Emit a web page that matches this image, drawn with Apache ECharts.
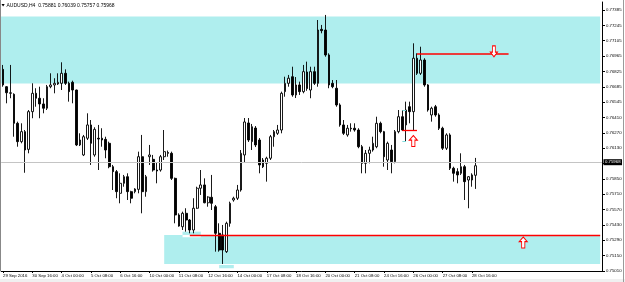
<!DOCTYPE html>
<html><head><meta charset="utf-8">
<script src="https://cdn.jsdelivr.net/npm/echarts@6/dist/echarts.min.js"></script>
<style>html,body{margin:0;padding:0;background:#fff;}#c{width:625px;height:282px;}</style>
</head><body><div id="c"></div>
<script>
// ---- data (AUDUSD H4) ----
const opens = [0.76845,0.76687,0.76627,0.76618,0.76354,0.76187,0.76278,0.76117,0.76460,0.76627,
0.76582,0.76530,0.76491,0.76687,0.76703,0.76712,0.76718,0.76809,0.76718,0.76727,
0.76657,0.76157,0.76066,0.76218,0.76339,0.76066,0.76218,0.76218,0.76208,0.76172,
0.75959,0.75914,0.75717,0.75808,0.75868,0.75732,0.75732,0.75753,0.76050,0.75732,
0.76050,0.76026,0.75929,0.75929,0.76050,0.76088,0.76081,0.75853,0.75520,0.75413,
0.75535,0.75474,0.75383,0.75581,0.75763,0.75793,0.75631,0.75681,0.75595,0.75353,
0.75338,0.75186,0.75444,0.75656,0.75672,0.75747,0.76066,0.76357,0.76187,0.76311,
0.76202,0.76020,0.75990,0.76036,0.76232,0.76263,0.76293,0.76642,0.76718,0.76778,
0.76612,0.76703,0.76642,0.76821,0.76657,0.76824,0.76718,0.77209,0.77203,0.76976,
0.76718,0.76673,0.76521,0.76339,0.76248,0.76309,0.76309,0.76293,0.76141,0.75990,
0.76081,0.76111,0.76141,0.76354,0.76278,0.76020,0.76111,0.76005,0.76278,0.76414,
0.76339,0.76505,0.76460,0.76946,0.76809,0.76930,0.76703,0.76430,0.76505,0.76430,
0.76309,0.76127,0.76248,0.75945,0.75914,0.75899,0.75959,0.75838,0.75838,0.75881];
const closes = [0.76703,0.76632,0.76632,0.76354,0.76187,0.76278,0.76111,0.76460,0.76627,0.76582,
0.76530,0.76491,0.76687,0.76703,0.76718,0.76727,0.76809,0.76718,0.76642,0.76657,
0.76157,0.76202,0.76232,0.76339,0.76172,0.76299,0.76211,0.76202,0.76111,0.75959,
0.75914,0.75732,0.75808,0.75868,0.75732,0.75672,0.75756,0.76050,0.75732,0.75868,
0.76066,0.75929,0.75920,0.76050,0.76096,0.76081,0.75853,0.75520,0.75419,0.75535,
0.75474,0.75383,0.75581,0.75763,0.75793,0.75631,0.75683,0.75626,0.75353,0.75201,
0.75201,0.75444,0.75626,0.75672,0.75747,0.76081,0.76366,0.76202,0.76323,0.76157,
0.75975,0.75959,0.76036,0.76232,0.76278,0.76293,0.76627,0.76718,0.76764,0.76612,
0.76703,0.76642,0.76824,0.76670,0.76824,0.76718,0.77203,0.77197,0.76976,0.76703,
0.76687,0.76521,0.76339,0.76263,0.76309,0.76304,0.76293,0.76141,0.75990,0.76081,
0.76111,0.76172,0.76354,0.76278,0.76050,0.76172,0.76005,0.76278,0.76414,0.76293,
0.76475,0.76460,0.76946,0.76809,0.76930,0.76703,0.76475,0.76491,0.76430,0.76309,
0.76127,0.76248,0.75945,0.75899,0.75884,0.75959,0.75823,0.75868,0.75884,0.75968];
const lows = [0.76687,0.76536,0.76582,0.76232,0.76141,0.76172,0.75904,0.76081,0.76400,0.76505,
0.76400,0.76445,0.76475,0.76673,0.76627,0.76703,0.76657,0.76703,0.76551,0.76536,
0.76147,0.76147,0.76056,0.76202,0.75975,0.76050,0.75929,0.76141,0.76036,0.75945,
0.75747,0.75672,0.75626,0.75777,0.75656,0.75626,0.75717,0.75717,0.75535,0.75686,
0.75975,0.75914,0.75808,0.75914,0.76020,0.76050,0.75838,0.75444,0.75413,0.75383,
0.75368,0.75353,0.75353,0.75575,0.75702,0.75626,0.75595,0.75565,0.75186,0.75186,
0.75074,0.75174,0.75413,0.75641,0.75656,0.75732,0.75993,0.76184,0.76111,0.76138,
0.75899,0.75947,0.75823,0.76020,0.76141,0.76248,0.76263,0.76596,0.76687,0.76596,
0.76584,0.76612,0.76627,0.76650,0.76582,0.76703,0.76687,0.77173,0.76960,0.76673,
0.76673,0.76505,0.76323,0.76248,0.76232,0.76278,0.76278,0.76127,0.75899,0.75899,
0.75990,0.76096,0.76127,0.76263,0.75959,0.75929,0.75899,0.75990,0.76263,0.76284,
0.76187,0.76354,0.76293,0.76794,0.76794,0.76687,0.76460,0.76369,0.76414,0.76293,
0.76111,0.76111,0.75929,0.75823,0.75808,0.75884,0.75656,0.75581,0.75777,0.75757];
const highs = [0.76885,0.76693,0.76885,0.76627,0.76369,0.76354,0.76293,0.76475,0.76718,0.76673,
0.76687,0.76582,0.76703,0.76809,0.76764,0.76809,0.76909,0.76845,0.76733,0.76742,
0.76660,0.76263,0.76248,0.76445,0.76384,0.76318,0.76339,0.76309,0.76232,0.76187,
0.75975,0.75929,0.75899,0.75884,0.75899,0.75740,0.75763,0.76096,0.76248,0.75884,
0.76157,0.76066,0.75993,0.76066,0.76293,0.76106,0.76096,0.75860,0.75535,0.75550,
0.75581,0.75483,0.75672,0.75777,0.75929,0.75853,0.75690,0.75884,0.75611,0.75444,
0.75429,0.75459,0.75641,0.75686,0.75793,0.76111,0.76402,0.76402,0.76348,0.76329,
0.76220,0.76038,0.76050,0.76248,0.76293,0.76339,0.76642,0.76778,0.76794,0.76869,
0.76775,0.76733,0.76885,0.76915,0.76869,0.76869,0.77294,0.77249,0.77340,0.76991,
0.76748,0.76748,0.76536,0.76384,0.76339,0.76354,0.76354,0.76309,0.76157,0.76111,
0.76141,0.76232,0.76414,0.76369,0.76285,0.76187,0.76157,0.76293,0.76475,0.76475,
0.76551,0.76551,0.77082,0.76991,0.77051,0.76946,0.76710,0.76505,0.76521,0.76445,
0.76323,0.76263,0.76263,0.75959,0.75945,0.76081,0.75975,0.75874,0.75899,0.76039];

const xLabels = ['29 Sep 2016','30 Sep 16:00','4 Oct 00:00','5 Oct 08:00','6 Oct 16:00','10 Oct 00:00',
'11 Oct 08:00','12 Oct 16:00','14 Oct 00:00','17 Oct 08:00','18 Oct 16:00','20 Oct 00:00','21 Oct 08:00',
'24 Oct 16:00','26 Oct 00:00','27 Oct 08:00','28 Oct 16:00'];
const yLabels = ['0.75010','0.75150','0.75290','0.75430','0.75570','0.75710','0.75850','',
'0.76130','0.76270','0.76410','0.76545','0.76685','0.76825','0.76965','0.77105','0.77245','0.77385'];
const yMin = 0.75010, yStep = 0.00139706, yMax = 0.774578;
const lastPrice = 0.75968;
const titleText = 'AUDUSD,H4  0.75881 0.76039 0.75757 0.75968';
const totalSlots = 164, labelEvery = 8;

// zones / annotations (price levels and bar indices)
const resistanceZone = [0.77326, 0.76716];
const supportZone = [0.75338, 0.75074];
const supportZoneStart = 44;
const supportLine = 0.75331, supportLineStart = 51;
const resistLine = 0.76985, resistLineBars = [113, 138];
const breakLine = 0.76293, breakLineBars = [109, 113];
const arrowsUp = [[112, 0.76193], [142, 0.75269]];
const arrowsDown = [[134, 0.77009]];

// ---- build ----
const FONT = 'Liberation Sans';
const cats = [];
for (let i = 0; i < totalSlots; i++) cats.push(String(i));
const candles = opens.map((o, i) => [o, closes[i], lows[i], highs[i]]);
const yTicks = yLabels.map((_, k) => +(yMin + k * yStep).toFixed(6));
const showX = (idx) => idx % labelEvery === 0 && idx / labelEvery < xLabels.length;
const arrowPath = 'path://M5,0L10,5L7,5L7,12L3,12L3,5L0,5Z';
const lastIdx = totalSlots - 1;
const CYAN = '#afeeee';

const option = {
  animation: false,
  backgroundColor: '#fff',
  grid: { left: 0, right: 23, top: 2, bottom: 11, containLabel: false },
  xAxis: {
    type: 'category', data: cats, boundaryGap: true,
    axisLine: { show: true, lineStyle: { color: '#000', width: 1 } },
    axisTick: { show: true, alignWithLabel: true, length: 2, interval: showX, lineStyle: { color: '#000' } },
    axisLabel: {
      interval: showX, align: 'left', margin: 2.5, fontSize: 4.3, color: '#000', fontFamily: FONT,
      formatter: (v) => { const i = parseInt(v, 10); return showX(i) ? xLabels[i / labelEvery] : ''; }
    },
    splitLine: { show: false }
  },
  yAxis: {
    type: 'value', position: 'right', min: yMin, max: yMax, scale: true,
    axisLine: { show: true, lineStyle: { color: '#000', width: 1 } },
    axisTick: { show: true, length: 3, customValues: yTicks, lineStyle: { color: '#000' } },
    axisLabel: {
      customValues: yTicks, margin: 4, fontSize: 4.3, color: '#000', fontFamily: FONT,
      formatter: (v) => { const k = Math.round((v - yMin) / yStep); return yLabels[k] || ''; }
    },
    splitLine: { show: false }
  },
  graphic: [
    { type: 'polygon', shape: { points: [[1.5, 4], [4.7, 4], [3.1, 6.6]] }, style: { fill: '#000' }, z: 100 },
    { type: 'text', x: 6.5, y: 3, style: { text: titleText, fontSize: 5, fill: '#000', fontFamily: FONT }, z: 100 },
    { type: 'line', shape: { x1: 0.5, y1: 0, x2: 0.5, y2: 271 }, style: { stroke: '#888', lineWidth: 1 }, z: 100 },
    { type: 'rect', shape: { x: 0, y: 279, width: 625, height: 3 }, style: { fill: '#f0f0f0' }, z: 100 },
    { type: 'line', shape: { x1: 623.5, y1: 0, x2: 623.5, y2: 282 }, style: { stroke: '#9a9a9a', lineWidth: 1 }, z: 100 }
  ],
  series: [{
    type: 'candlestick', data: candles, barWidth: 2.2, z: 3,
    itemStyle: { color: '#fff', color0: '#000', borderColor: '#000', borderColor0: '#000', borderWidth: 0.9 },
    markArea: {
      silent: true, z: 1,
      data: [
        [{ coord: [0, resistanceZone[0]], x: 1, itemStyle: { color: CYAN } }, { coord: [lastIdx, resistanceZone[1]] }],
        [{ coord: [supportZoneStart, supportZone[0]], itemStyle: { color: CYAN } }, { coord: [lastIdx, supportZone[1]] }],
        [{ coord: [49, 0.75368], itemStyle: { color: CYAN } }, { coord: [54, supportZone[0]] }],
        [{ coord: [49, supportZone[0]], itemStyle: { color: '#ffffff' } }, { coord: [54, 0.75317] }],
        [{ coord: [59, 0.75065], itemStyle: { color: CYAN } }, { coord: [63, 0.75035] }]
      ]
    },
    markLine: {
      silent: true, symbol: ['none', 'none'], z: 5,
      data: [
        { yAxis: lastPrice, lineStyle: { color: '#c4c4c4', width: 1, type: 'solid' },
          label: { show: true, position: 'end', distance: 1.5, formatter: lastPrice.toFixed(5),
                   color: '#fff', backgroundColor: '#000', fontSize: 4.3, fontFamily: FONT, padding: [1, 1.5, 1, 1.5] } },
        [{ coord: [supportLineStart, supportLine], lineStyle: { color: '#ff0000', width: 1.3, type: 'solid' }, label: { show: false } },
         { coord: [lastIdx, supportLine] }],
        [{ coord: [resistLineBars[0], resistLine], lineStyle: { color: '#ff0000', width: 1.5, type: 'solid' }, label: { show: false } },
         { coord: [resistLineBars[1], resistLine] }],
        [{ coord: [breakLineBars[0], breakLine], lineStyle: { color: '#ff0000', width: 1.3, type: 'solid' }, label: { show: false } },
         { coord: [breakLineBars[1], breakLine] }],
        [{ coord: [109, 0.76475], lineStyle: { color: '#7fdcdc', width: 1, type: 'solid' }, label: { show: false } }, { coord: [110, 0.76475] }],
        [{ coord: [109, 0.76187], lineStyle: { color: '#7fdcdc', width: 1, type: 'solid' }, label: { show: false } }, { coord: [110, 0.76187] }]
      ]
    },
    markPoint: {
      silent: true, z: 6,
      data: arrowsUp.map(a => ({ coord: a, symbol: arrowPath, symbolSize: [8, 11],
              itemStyle: { color: '#fff', borderColor: '#ff0000', borderWidth: 1 }, label: { show: false } }))
        .concat(arrowsDown.map(a => ({ coord: a, symbol: arrowPath, symbolSize: [7, 11], symbolRotate: 180,
              itemStyle: { color: '#fff', borderColor: '#ff0000', borderWidth: 1 }, label: { show: false } })))
    }
  }]
};
const chart = echarts.init(document.getElementById('c'));
chart.setOption(option);
</script></body></html>
